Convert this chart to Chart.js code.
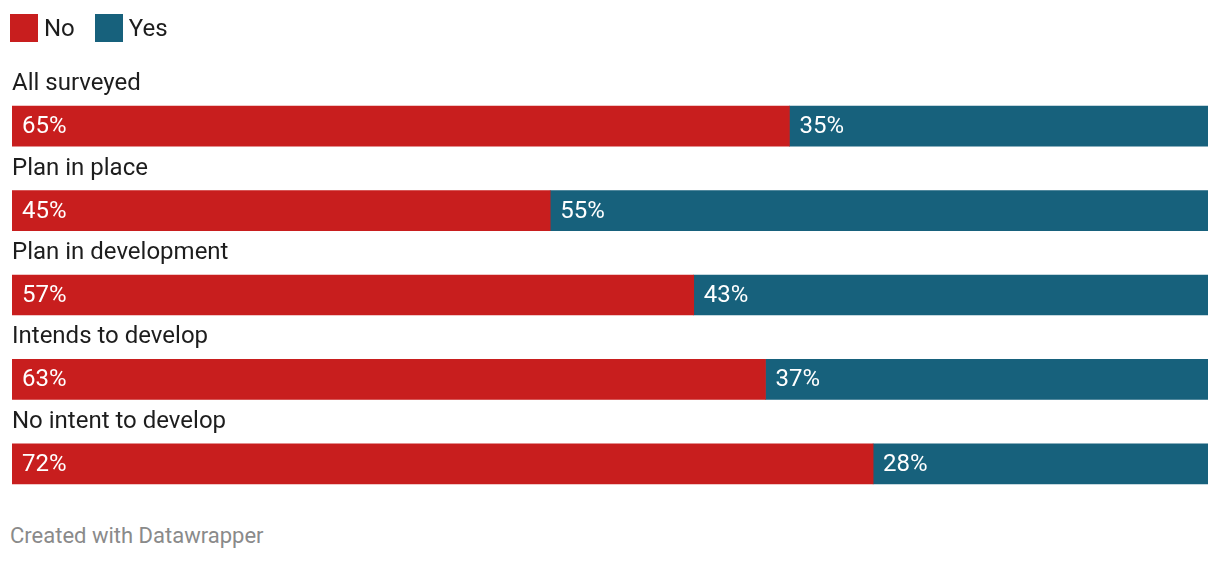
<!DOCTYPE html>
<html>
<head>
<meta charset="utf-8">
<script src="https://cdn.jsdelivr.net/npm/chart.js@4"></script>
<style>
  body { margin: 0; background: #fff; font-family: Roboto, sans-serif; }
  #wrap { position: relative; width: 1220px; height: 510px; }
  #legend { position: absolute; left: 10px; top: 14px; display: flex; font-size: 24px; color: #1d1d1d; z-index: 2; }
  .item { display: flex; align-items: center; height: 28px; margin-right: 20px; }
  .sw { width: 28px; height: 28px; margin-right: 6px; }
  #footer { position: absolute; left: 10px; top: 523px; font-size: 22px; color: #8a8a8a; }
</style>
</head>
<body>
<div id="wrap"><canvas id="chart"></canvas></div>
<div id="legend"></div>
<div id="footer">Created with Datawrapper</div>
<script>
const categories = ["All surveyed", "Plan in place", "Plan in development", "Intends to develop", "No intent to develop"];
const noValues = [65, 45, 57, 63, 72];
const yesValues = [35, 55, 43, 37, 28];
const seriesNames = ["No", "Yes"];

const RED = "#c81e1e";
const TEAL = "#17617c";
const colors = [RED, TEAL];

// legend
document.getElementById("legend").innerHTML = seriesNames.map((n, i) =>
  `<div class="item"><span class="sw" style="background:${colors[i]}"></span>${n}</div>`
).join("");

// category names above each bar + value labels inside segments
const barText = {
  id: "barText",
  afterDatasetsDraw(chart) {
    const ctx = chart.ctx;
    const y = chart.scales.y;
    ctx.save();
    ctx.font = "24px Roboto";
    ctx.textBaseline = "alphabetic";
    ctx.textAlign = "left";
    ctx.fillStyle = "#1d1d1d";
    categories.forEach((c, i) => {
      ctx.fillText(c, 12, y.getPixelForValue(i) - 36);
    });
    ctx.fillStyle = "#fff";
    ctx.textBaseline = "middle";
    chart.data.datasets.forEach((ds, di) => {
      chart.getDatasetMeta(di).data.forEach((bar, i) => {
        const left = Math.min(bar.x, bar.base);
        ctx.fillText(ds.data[i] + "%", left + 10, bar.y + 1);
      });
    });
    ctx.restore();
  }
};

new Chart(document.getElementById("chart"), {
  type: "bar",
  data: {
    labels: categories,
    datasets: [
      { label: seriesNames[0], data: noValues, backgroundColor: RED, barThickness: 40 },
      { label: seriesNames[1], data: yesValues, backgroundColor: TEAL, barThickness: 40 }
    ]
  },
  options: {
    indexAxis: "y",
    responsive: true,
    maintainAspectRatio: false,
    animation: false,
    layout: { padding: { left: 12, right: 12, top: 84, bottom: 4 } },
    scales: {
      x: { stacked: true, min: 0, max: 100, display: false },
      y: { stacked: true, display: false }
    },
    plugins: {
      tooltip: { enabled: false },
      legend: { display: false }
    }
  },
  plugins: [barText]
});
</script>
</body>
</html>
